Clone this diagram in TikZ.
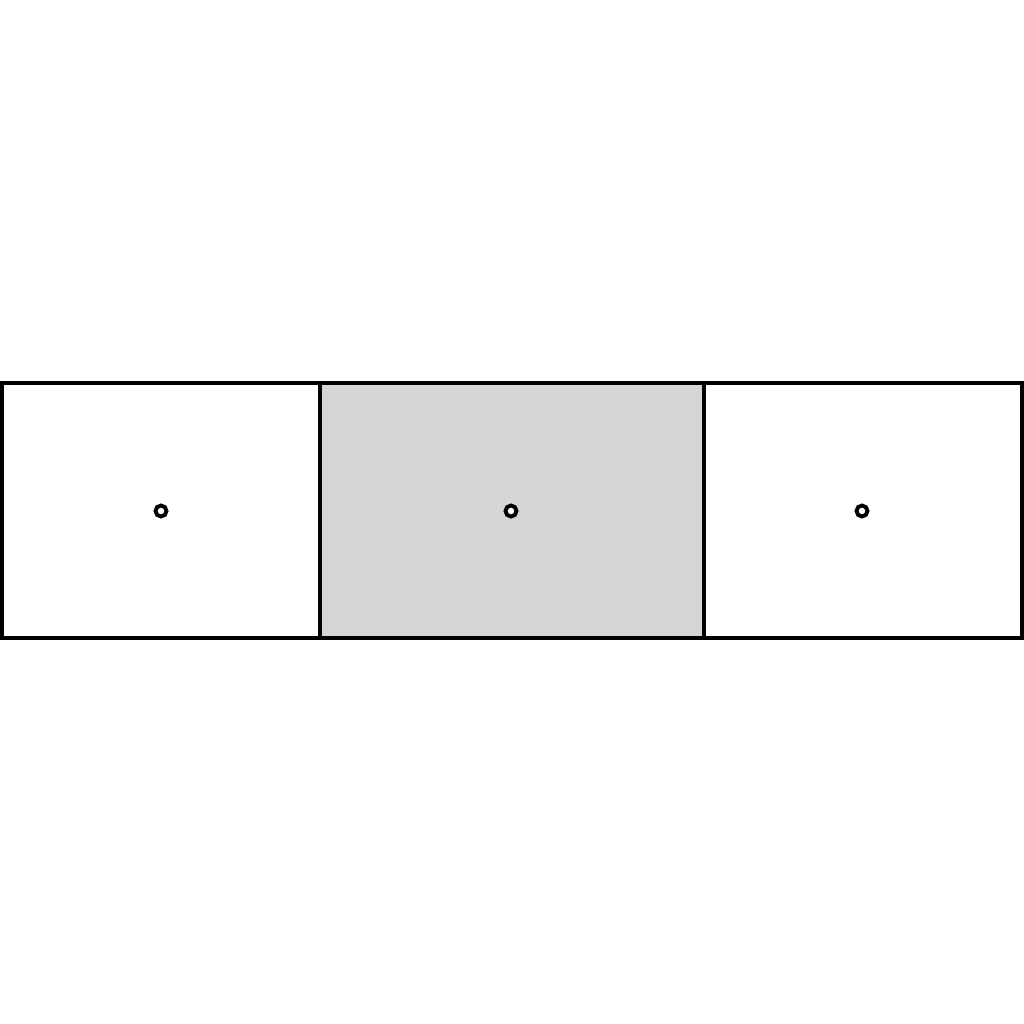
\documentclass[tikz,border=0pt]{standalone}
\usepackage{tikz}
\usetikzlibrary{positioning}
\definecolor{panelgray}{HTML}{D4D5D5}
\tikzstyle{panel} = [rectangle, draw, line width=2pt, fill=white,
    minimum height=5.1cm, inner sep=0pt, outer sep=0pt]
\tikzstyle{side} = [panel, minimum width=6.36cm]
\tikzstyle{mid} = [panel, minimum width=7.68cm, fill=panelgray]
\tikzstyle{hole} = [circle, draw, line width=2.2pt, fill=white,
    minimum size=0.22cm, inner sep=0pt]

\begin{document}
\begin{tikzpicture}[node distance = 7.02cm]
\useasboundingbox (0,0) rectangle (20.48,20.48);
\node [mid] (centre) at (10.24,10.27) {};
\node [side, left of=centre] (left) {};
\node [side, right of=centre] (right) {};
% redraw the middle so its borders sit on top
\node [mid] at (centre) {};
\node [hole] (hl) at (3.22,10.26) {};
\node [hole] (hc) at (10.22,10.26) {};
\node [hole] (hr) at (17.24,10.26) {};
\end{tikzpicture}
\end{document}
